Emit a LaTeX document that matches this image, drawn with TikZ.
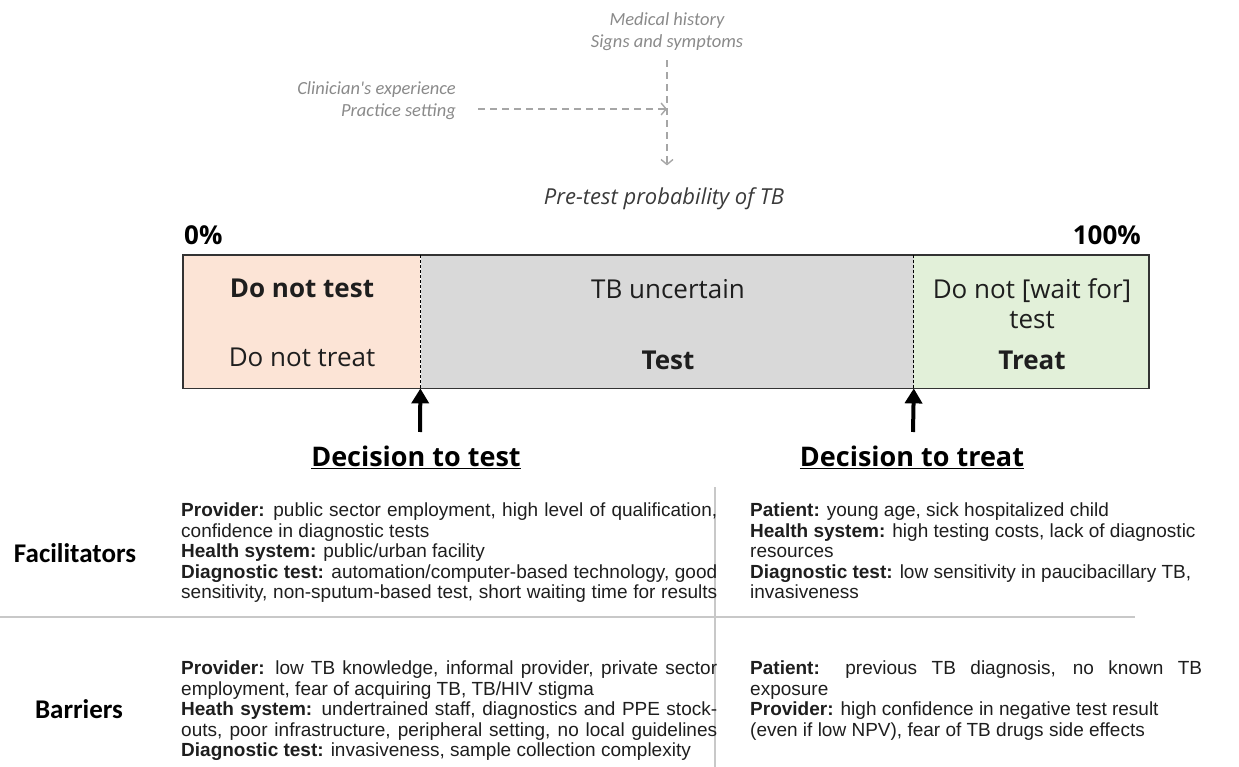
\documentclass[tikz,border=0pt]{standalone}
\usepackage{fontspec}
\setmainfont{Open Sans}
\newfontfamily\calibrifont{Carlito}
\newfontfamily\arialfont{Liberation Sans}
\usepackage{xcolor}
\usetikzlibrary{arrows.meta,positioning}
\definecolor{tb-peach}{HTML}{FCE4D6}
\definecolor{tb-grey}{HTML}{D9D9D9}
\definecolor{tb-green}{HTML}{E2F0D9}
\definecolor{tb-note}{HTML}{8A8A8A}
\definecolor{tb-dash}{HTML}{A6A6A6}
\definecolor{tb-pre}{HTML}{3A3A3A}
\definecolor{tb-frame}{HTML}{333333}
\definecolor{tb-rule}{HTML}{C8C8C8}
\definecolor{tb-text}{HTML}{1E1E1E}
\newcommand{\tabletext}{\arialfont\fontsize{19}{20.5}\selectfont\parindent=0pt\emergencystretch=20pt}

\begin{document}
\begin{tikzpicture}[x=1pt,y=-1pt,
  note/.style={text=tb-note,font=\calibrifont\itshape\fontsize{18.5}{22}\selectfont,inner sep=0pt},
  dasharrow/.style={tb-dash,line width=1.4pt,dash pattern=on 7pt off 5pt,-{Straight Barb[length=5pt,width=12pt]}},
  zone/.style={minimum height=133pt,inner sep=0pt,anchor=north west},
  zonetext/.style={text=tb-text,font=\fontsize{26}{30}\selectfont},
  divider/.style={line width=1.1pt,dash pattern=on 3pt off 2pt},
  decarrow/.style={line width=4pt,-{Triangle[length=15pt,width=17pt]}},
  decision/.style={font=\bfseries\fontsize{27}{32}\selectfont},
  pct/.style={inner sep=0pt,font=\bfseries\fontsize{26}{30}\selectfont},
  rowlabel/.style={font=\calibrifont\bfseries\fontsize{27}{32}\selectfont},
  cell/.style={anchor=north west,inner sep=0pt,align=justify,text=tb-text,font=\tabletext},
  rule/.style={tb-rule,line width=1.3pt}
]
\useasboundingbox (0,0) rectangle (1239,767);

\node[note,align=center] (history) at (667,32) {Medical history\\Signs and symptoms};
\node[note,align=right,anchor=east] (clinician) at (456,101) {Clinician's experience\\Practice setting};
\node[text=tb-pre,font=\itshape\fontsize{22}{26}\selectfont] (pretest) at (664,199) {Pre-test probability of TB};
\coordinate (meet) at (667,109);
\draw[dasharrow,shorten <=22pt] (clinician.east |- meet) -- (meet);
\draw[dasharrow,shorten <=9pt,shorten >=19pt] (history.south) -- (history.south |- pretest.north);

\node[pct,anchor=west] (zero) at (184,235) {0\%};
\node[pct,anchor=east] (full) at (1141,235) {100\%};
\node[zone,fill=tb-peach,minimum width=237pt] (low) at (183,255) {};
\node[zone,fill=tb-grey,minimum width=493pt] (mid) at (low.north east) {};
\node[zone,fill=tb-green,minimum width=235pt] (high) at (mid.north east) {};
\draw[tb-frame,line width=1.6pt] (low.north west) rectangle (high.south east);
\draw[divider] (low.north east) -- (low.south east);
\draw[divider] (high.north west) -- (high.south west);

\node[zonetext] (notest) at (302,288) {\textbf{Do not test}};
\node[zonetext] (notreat) at (302,357) {Do not treat};
\node[zonetext] (uncertain) at (668,289) {TB uncertain};
\node[zonetext] (testing) at (668,360) {\textbf{Test}};
\node[zonetext,align=center] (nowait) at (1032,304) {Do not [wait for]\\test};
\node[zonetext] (treat) at (1032,360) {\textbf{Treat}};

\coordinate (testfoot) at (420,432);
\coordinate (treatfoot) at (913,432);
\draw[decarrow] (testfoot) -- (low.south east);
\draw[decarrow] (treatfoot) -- (high.south west);
\node[decision] (dectest) at (416,457) {\underline{Decision to test}};
\node[decision] (dectreat) at (912,457) {\underline{Decision to treat}};

\draw[rule] (0,617) -- (1135,617);
\draw[rule] (715,487) -- (715,767);
\node[rowlabel] (facil) at (75,553) {Facilitators};
\node[rowlabel] (barr) at (79,709) {Barriers};

\node[cell,text width=536pt] (facleft) at (181,503) {%
\textbf{Provider:} public sector employment, high level of qualification,\linebreak confidence in diagnostic tests\par
\textbf{Health system:} public/urban facility\par
{\parfillskip=0pt \textbf{Diagnostic test:} automation/computer-based technology, good\linebreak sensitivity, non-sputum-based test, short waiting time for results\par}};
\node[cell,text width=452pt] (facright) at (750,503) {%
\textbf{Patient:} young age, sick hospitalized child\par
\textbf{Health system:} high testing costs, lack of diagnostic\\resources\par
\textbf{Diagnostic test:} low sensitivity in paucibacillary TB,\\invasiveness};
\node[cell,text width=536pt] (barleft) at (181,661) {%
\textbf{Provider:} low TB knowledge, informal provider, private sector\linebreak employment, fear of acquiring TB, TB/HIV stigma\par
{\parfillskip=0pt \textbf{Heath system:} undertrained staff, diagnostics and PPE stock-\linebreak outs, poor infrastructure, peripheral setting, no local guidelines\par}
\textbf{Diagnostic test:} invasiveness, sample collection complexity};
\node[cell,text width=452pt] (barright) at (750,661) {%
\textbf{Patient:} previous TB diagnosis, no known TB\linebreak exposure\par
\textbf{Provider:} high confidence in negative test result\\(even if low NPV), fear of TB drugs side effects};
\end{tikzpicture}
\end{document}
